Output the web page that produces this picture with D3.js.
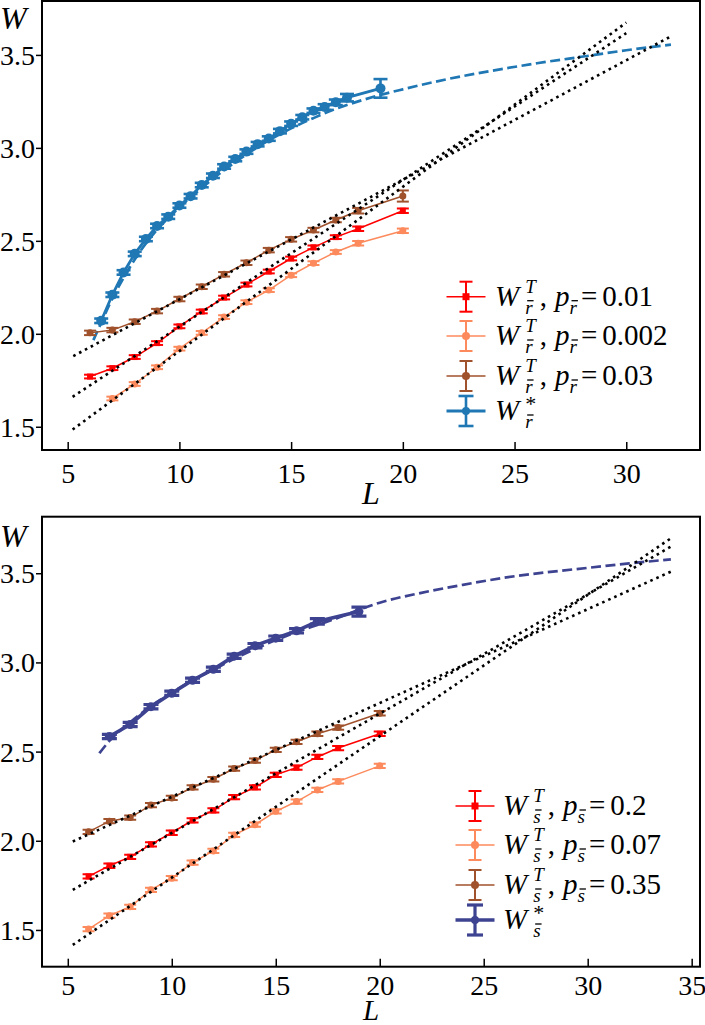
<!DOCTYPE html>
<html>
<head>
<meta charset="utf-8">
<script src="https://cdn.jsdelivr.net/npm/d3@7"></script>
<style>
  body { margin: 0; background: #fff; }
  text { font-family: "Liberation Serif", serif; }
</style>
</head>
<body>
<svg id="chart" width="705" height="1025"></svg>
<script>
// ---------- top panel: r-bar ----------
var rL = [6, 7, 8, 9, 10, 11, 12, 13, 14, 15, 16, 17, 18, 20];
var rRedW = [1.77, 1.815, 1.875, 1.95, 2.04, 2.12, 2.195, 2.265, 2.335, 2.405, 2.465, 2.52, 2.565, 2.662];
var rRedE = [0.01, 0.01, 0.01, 0.01, 0.01, 0.01, 0.01, 0.01, 0.01, 0.01, 0.01, 0.01, 0.012, 0.012];
var rSalmonL = [7, 8, 9, 10, 11, 12, 13, 14, 15, 16, 17, 18, 20];
var rSalmonW = [1.652, 1.73, 1.82, 1.92, 2.005, 2.09, 2.17, 2.235, 2.315, 2.38, 2.44, 2.487, 2.554];
var rSalmonE = [0.01, 0.01, 0.01, 0.01, 0.01, 0.01, 0.01, 0.01, 0.01, 0.01, 0.01, 0.012, 0.012];
var rBrownW = [2.005, 2.02, 2.065, 2.122, 2.187, 2.253, 2.32, 2.382, 2.45, 2.508, 2.558, 2.612, 2.662, 2.741];
var rBrownE = [0.012, 0.012, 0.012, 0.012, 0.012, 0.012, 0.012, 0.012, 0.012, 0.012, 0.012, 0.012, 0.015, 0.03];
var rStarL = [6.5, 7, 7.5, 8, 8.5, 9, 9.5, 10, 10.5, 11, 11.5, 12, 12.5, 13, 13.5, 14, 14.5, 15, 15.5, 16, 16.5, 17, 17.5, 19];
var rStarW = [2.07, 2.21, 2.33, 2.43, 2.51, 2.58, 2.63, 2.69, 2.74, 2.80, 2.85, 2.90, 2.94, 2.98, 3.02, 3.05, 3.09, 3.13, 3.165, 3.20, 3.22, 3.245, 3.27, 3.32];
var rStarE = [0.012, 0.012, 0.012, 0.012, 0.012, 0.012, 0.012, 0.012, 0.012, 0.012, 0.012, 0.012, 0.012, 0.012, 0.012, 0.012, 0.012, 0.012, 0.012, 0.012, 0.015, 0.015, 0.02, 0.05];
var rStarFitL = [6.15, 6.5, 7, 7.5, 8, 9, 10, 11, 12, 13, 14, 15, 16, 17, 18, 19, 20, 22, 24, 26, 28, 30, 32];
var rStarFitW = [1.966, 2.06, 2.19, 2.30, 2.40, 2.56, 2.68, 2.785, 2.88, 2.965, 3.04, 3.105, 3.16, 3.21, 3.25, 3.285, 3.315, 3.37, 3.415, 3.455, 3.49, 3.525, 3.555];
var rRedFitL = [5.22, 30], rRedFitW = [1.661, 3.617];
var rSalmonFitL = [5.22, 30], rSalmonFitW = [1.485, 3.674];
var rBrownFitL = [5.25, 32], rBrownFitW = [1.88, 3.60];
var rLegendP = ["0.01", "0.002", "0.03"];

// ---------- bottom panel: s-bar ----------
var sL = [6, 7, 8, 9, 10, 11, 12, 13, 14, 15, 16, 17, 18, 20];
var sRedW = [1.80, 1.86, 1.91, 1.98, 2.045, 2.115, 2.17, 2.245, 2.30, 2.37, 2.41, 2.47, 2.52, 2.60];
var sSalmonW = [1.505, 1.58, 1.63, 1.725, 1.79, 1.878, 1.943, 2.033, 2.09, 2.165, 2.22, 2.285, 2.333, 2.42];
var sBrownW = [2.05, 2.11, 2.13, 2.20, 2.24, 2.30, 2.345, 2.405, 2.45, 2.51, 2.555, 2.60, 2.635, 2.715];
var sErr = [0.012, 0.012, 0.012, 0.012, 0.012, 0.012, 0.012, 0.012, 0.012, 0.012, 0.012, 0.012, 0.012, 0.012];
var sStarL = [7, 8, 9, 10, 11, 12, 13, 14, 15, 16, 17, 19];
var sStarW = [2.585, 2.652, 2.752, 2.827, 2.90, 2.962, 3.035, 3.094, 3.136, 3.177, 3.23, 3.285];
var sStarE = [0.012, 0.012, 0.012, 0.012, 0.012, 0.012, 0.012, 0.012, 0.012, 0.012, 0.015, 0.025];
var sStarFitL = [6.52, 7, 8, 9, 10, 11, 12, 13, 14, 15, 16, 17, 18, 19, 20, 22, 24, 26, 28, 30, 32, 34];
var sStarFitW = [2.491, 2.56, 2.665, 2.755, 2.83, 2.90, 2.96, 3.02, 3.075, 3.125, 3.17, 3.21, 3.25, 3.295, 3.335, 3.39, 3.435, 3.475, 3.505, 3.53, 3.555, 3.578];
var sRedFitL = [5.24, 34], sRedFitW = [1.725, 3.649];
var sSalmonFitL = [5.24, 34], sSalmonFitW = [1.416, 3.696];
var sBrownFitL = [5.24, 34], sBrownFitW = [1.996, 3.509];
var sLegendP = ["0.2", "0.07", "0.35"];

var yTicks = [1.5, 2.0, 2.5, 3.0, 3.5];

var RED = "#ff0000", SALMON = "#fc8a5c", BROWN = "#a0522d";
var FONT = '"Liberation Serif", serif';

var svg = d3.select("#chart");

function zip(a, b, e) {
    return a.map(function (v, i) { return {L: v, W: b[i], e: e ? e[i] : 0}; });
}

// math-like label: W^T_{bar}, p_{bar}=value
function mathLabel(g, x0, yb, sub, sup, pval) {
    var x = x0;
    function piece(s, size, italic, dy) {
        var t = g.append("text").attr("x", x).attr("y", yb + (dy || 0))
            .style("font-family", FONT)
            .style("font-size", size + "px").style("font-style", italic ? "italic" : "normal")
            .text(s);
        return t.node().getComputedTextLength();
    }
    function barSub() {
        var w = piece(sub, 19, true, 8);
        g.append("line").attr("x1", x + 2).attr("x2", x + w + 1)
            .attr("y1", yb - 5).attr("y2", yb - 5)
            .attr("stroke", "#000").attr("stroke-width", 1.3);
        return w;
    }
    x += piece("W", 29, true) + 6;
    var ws = piece(sup, sup === "*" ? 22 : 19, sup !== "*", sup === "*" ? -9 : -13);
    var wb = barSub();
    x += Math.max(ws, wb) + 4;
    if (pval === null) return;
    x += piece(",", 29, false) + 8;
    x += piece("p", 29, true);
    x += barSub() + 4;
    x += piece("=", 29, false) + 5;
    piece(pval, 29, false);
}

function drawPanel(p) {
    var g = svg.append("g");
    var x = d3.scaleLinear().domain(p.xDomain).range([p.left, p.right]);
    var y = d3.scaleLinear().domain(p.yDomain).range([p.bottom, p.top]);
    var clipId = "clip" + p.id;
    g.append("clipPath").attr("id", clipId).append("rect")
        .attr("x", p.left).attr("y", p.top)
        .attr("width", p.right - p.left).attr("height", p.bottom - p.top);
    var plot = g.append("g").attr("clip-path", "url(#" + clipId + ")");

    var line = d3.line().x(function (d) { return x(d.L); }).y(function (d) { return y(d.W); });

    // dashed fit of W*
    plot.append("path").datum(zip(p.starFitL, p.starFitW))
        .attr("d", line.curve(d3.curveMonotoneX)).attr("fill", "none")
        .attr("stroke", p.starColor).attr("stroke-width", 2.7)
        .attr("stroke-dasharray", "10,4.5");
    line.curve(d3.curveLinear);

    p.series.forEach(function (s) {
        var data = zip(s.L, s.W, s.E);
        plot.append("path").datum(data).attr("d", line).attr("fill", "none")
            .attr("stroke", s.color).attr("stroke-width", s.lw);
        var pts = plot.append("g").selectAll("g").data(data).enter().append("g");
        pts.append("line")
            .attr("x1", function (d) { return x(d.L); }).attr("x2", function (d) { return x(d.L); })
            .attr("y1", function (d) { return y(d.W - d.e); }).attr("y2", function (d) { return y(d.W + d.e); })
            .attr("stroke", s.color).attr("stroke-width", s.elw);
        [-1, 1].forEach(function (sg) {
            pts.append("line")
                .attr("x1", function (d) { return x(d.L) - s.cap; }).attr("x2", function (d) { return x(d.L) + s.cap; })
                .attr("y1", function (d) { return y(d.W + sg * d.e); }).attr("y2", function (d) { return y(d.W + sg * d.e); })
                .attr("stroke", s.color).attr("stroke-width", s.elw);
        });
        if (s.marker === "square") {
            pts.append("rect")
                .attr("x", function (d) { return x(d.L) - s.ms; }).attr("y", function (d) { return y(d.W) - s.ms; })
                .attr("width", 2 * s.ms).attr("height", 2 * s.ms).attr("fill", s.color);
        } else {
            pts.append("circle").attr("cx", function (d) { return x(d.L); }).attr("cy", function (d) { return y(d.W); })
                .attr("r", s.ms).attr("fill", s.color);
        }
    });

    // dotted linear fits
    p.fits.forEach(function (f) {
        plot.append("path").datum(zip(f[0], f[1])).attr("d", line).attr("fill", "none")
            .attr("stroke", "#000").attr("stroke-width", 2.6)
            .attr("stroke-dasharray", "2.6,4");
    });

    // axes
    var ya = g.append("g").attr("transform", "translate(" + p.left + ",0)")
        .call(d3.axisLeft(y).tickValues(yTicks).tickSize(6).tickPadding(1).tickFormat(d3.format(".1f")));
    var xa = g.append("g").attr("transform", "translate(0," + p.bottom + ")")
        .call(d3.axisBottom(x).tickValues(p.xTicks).tickSize(-8).tickPadding(p.xPad));
    [ya, xa].forEach(function (a) {
        a.select(".domain").remove();
        a.attr("font-family", null);
        a.selectAll(".tick line").attr("stroke", "#000").attr("stroke-width", 1.5);
        a.selectAll(".tick text").attr("fill", "#000")
            .style("font-family", FONT).style("font-size", "28px");
    });
    ya.selectAll(".tick text").attr("dy", "0.34em");

    g.append("rect").attr("x", p.left).attr("y", p.top)
        .attr("width", p.right - p.left).attr("height", p.bottom - p.top)
        .attr("fill", "none").attr("stroke", "#000").attr("stroke-width", 2);

    g.append("text").attr("x", 0).attr("y", p.top + p.wOff)
        .style("font-size", "32px").style("font-style", "italic").text("W");
    g.append("text").attr("x", 371).attr("y", p.lBase).attr("text-anchor", "middle")
        .style("font-size", p.lSize + "px").style("font-style", "italic").text("L");

    // legend
    var lg = g.append("g");
    p.legend.forEach(function (it) {
        var s = it.s, cy = it.cy, cx = p.legX;
        lg.append("line").attr("x1", cx - 19.5).attr("x2", cx + 19.5).attr("y1", cy).attr("y2", cy)
            .attr("stroke", s.color).attr("stroke-width", s.lw);
        lg.append("line").attr("x1", cx).attr("x2", cx).attr("y1", cy - 15).attr("y2", cy + 15)
            .attr("stroke", s.color).attr("stroke-width", s.elw);
        [-15, 15].forEach(function (o) {
            lg.append("line").attr("x1", cx - s.cap - 0.5).attr("x2", cx + s.cap + 0.5)
                .attr("y1", cy + o).attr("y2", cy + o)
                .attr("stroke", s.color).attr("stroke-width", s.elw);
        });
        if (s.marker === "square") {
            lg.append("rect").attr("x", cx - 3.5).attr("y", cy - 3.5).attr("width", 7).attr("height", 7).attr("fill", s.color);
        } else {
            lg.append("circle").attr("cx", cx).attr("cy", cy).attr("r", 4).attr("fill", s.color);
        }
        mathLabel(lg, p.legTextX, cy + 9, p.sub, it.sup, it.p);
    });
}

var rRed = {L: rL, W: rRedW, E: rRedE, color: RED, lw: 1.5, elw: 2, cap: 6, ms: 3, marker: "square"};
var rSalmon = {L: rSalmonL, W: rSalmonW, E: rSalmonE, color: SALMON, lw: 1.5, elw: 2, cap: 6, ms: 3.5, marker: "circle"};
var rBrown = {L: rL, W: rBrownW, E: rBrownE, color: BROWN, lw: 1.5, elw: 2, cap: 6, ms: 3.5, marker: "circle"};
var rStar = {L: rStarL, W: rStarW, E: rStarE, color: "#1f77b4", lw: 2.8, elw: 2.6, cap: 7, ms: 5, marker: "circle"};

drawPanel({
    id: "top", left: 42, right: 700, top: 1, bottom: 450,
    xDomain: [3.85, 33.3], yDomain: [1.375, 3.79], xTicks: [5, 10, 15, 20, 25, 30], xPad: 13,
    wOff: 28, lBase: 504, lSize: 32,
    starFitL: rStarFitL, starFitW: rStarFitW, starColor: "#1f77b4",
    series: [rRed, rSalmon, rBrown, rStar],
    fits: [[rRedFitL, rRedFitW], [rSalmonFitL, rSalmonFitW], [rBrownFitL, rBrownFitW]],
    sub: "r", legX: 466, legTextX: 495,
    legend: [
        {s: rRed, cy: 296.7, sup: "T", p: rLegendP[0]},
        {s: rSalmon, cy: 336, sup: "T", p: rLegendP[1]},
        {s: rBrown, cy: 376, sup: "T", p: rLegendP[2]},
        {s: rStar, cy: 411, sup: "*", p: null}
    ]
});

var sRed = {L: sL, W: sRedW, E: sErr, color: RED, lw: 1.5, elw: 2, cap: 6, ms: 3, marker: "square"};
var sSalmon = {L: sL, W: sSalmonW, E: sErr, color: SALMON, lw: 1.5, elw: 2, cap: 6, ms: 3.5, marker: "circle"};
var sBrown = {L: sL, W: sBrownW, E: sErr, color: BROWN, lw: 1.5, elw: 2, cap: 6, ms: 3.5, marker: "circle"};
var sStar = {L: sStarL, W: sStarW, E: sStarE, color: "#3d4390", lw: 3.6, elw: 3.2, cap: 7.5, ms: 4.5, marker: "circle"};

drawPanel({
    id: "bot", left: 42, right: 700, top: 516.7, bottom: 966.7,
    xDomain: [3.76, 35.4], yDomain: [1.294, 3.817], xTicks: [5, 10, 15, 20, 25, 30, 35], xPad: 8,
    wOff: 30, lBase: 1020, lSize: 29,
    starFitL: sStarFitL, starFitW: sStarFitW, starColor: "#3d4390",
    series: [sRed, sSalmon, sBrown, sStar],
    fits: [[sRedFitL, sRedFitW], [sSalmonFitL, sSalmonFitW], [sBrownFitL, sBrownFitW]],
    sub: "s", legX: 475, legTextX: 503,
    legend: [
        {s: sRed, cy: 806, sup: "T", p: sLegendP[0]},
        {s: sSalmon, cy: 845, sup: "T", p: sLegendP[1]},
        {s: sBrown, cy: 885, sup: "T", p: sLegendP[2]},
        {s: sStar, cy: 920, sup: "*", p: null}
    ]
});
</script>
</body>
</html>
